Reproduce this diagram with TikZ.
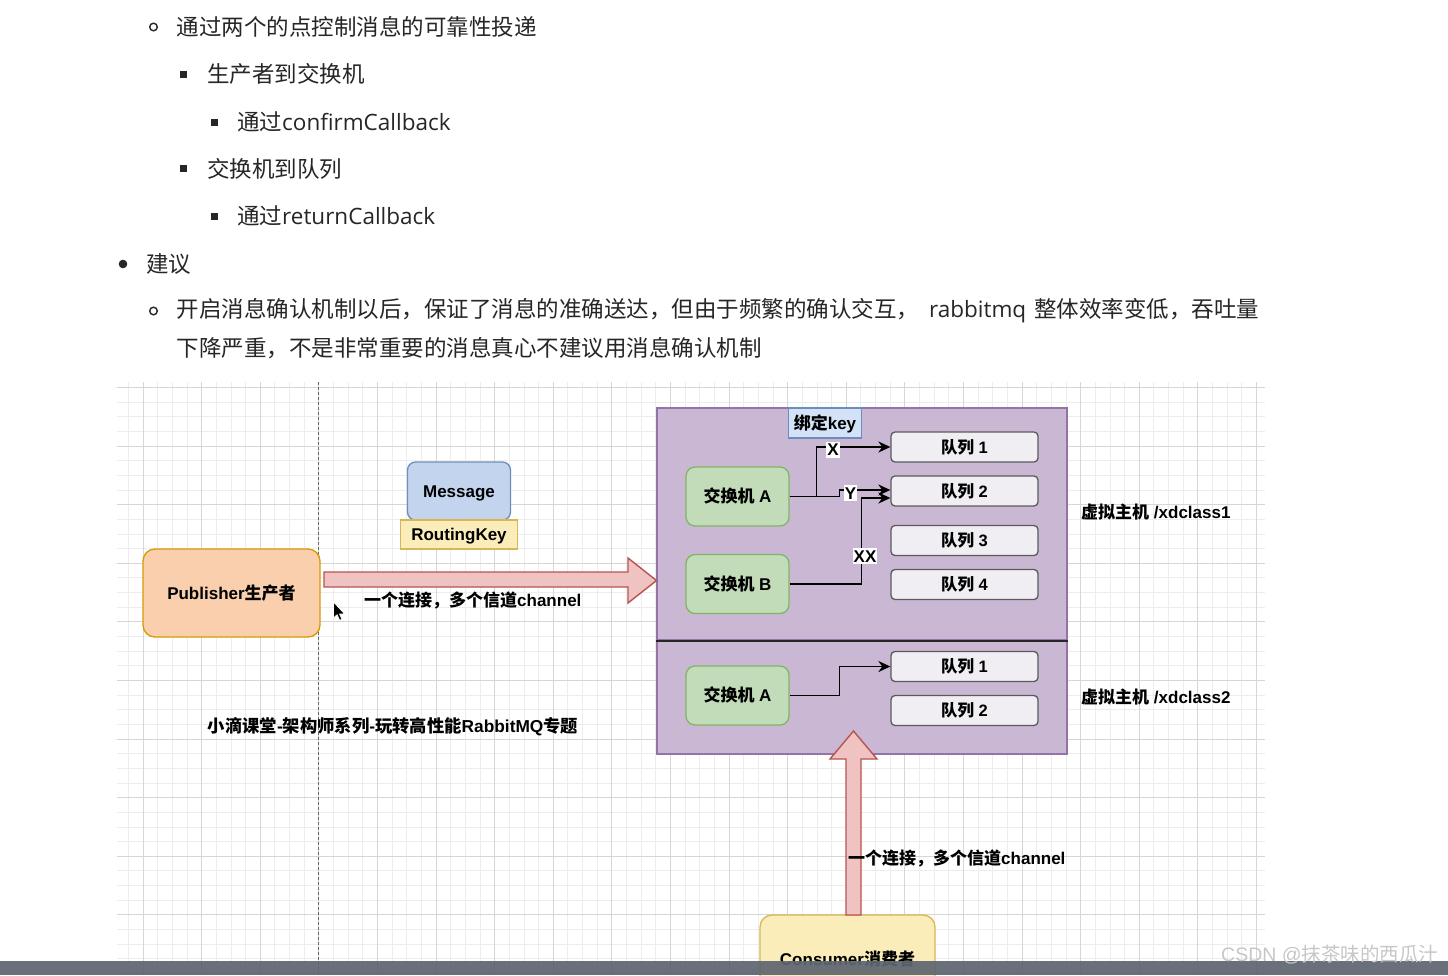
\documentclass[tikz,border=0pt]{standalone}
\usepackage{fontspec}
\setmainfont{Liberation Sans}
\newfontfamily\cjk{Noto Sans CJK SC}
\newfontfamily\os{Open Sans}
\usetikzlibrary{arrows.meta,calc}
\newcommand\zh[1]{{\cjk #1}}
\definecolor{txtgray}{HTML}{262626}
\definecolor{gridminor}{HTML}{EDEDED}
\definecolor{gridmajor}{HTML}{D6D6D6}
\definecolor{peach}{HTML}{F9CFAE}
\definecolor{peachd}{HTML}{D79B00}
\definecolor{msgblue}{HTML}{C3D4EF}
\definecolor{msgblued}{HTML}{6C8EBF}
\definecolor{bindblue}{HTML}{D3E2F7}
\definecolor{yel}{HTML}{FBEDB9}
\definecolor{yeld}{HTML}{D6B656}
\definecolor{purp}{HTML}{C9B7D4}
\definecolor{purpd}{HTML}{9673A6}
\definecolor{grn}{HTML}{C2DCB9}
\definecolor{grnd}{HTML}{82B366}
\definecolor{qfill}{HTML}{F0EEF2}
\definecolor{qdraw}{HTML}{5A5A5A}
\definecolor{arrfill}{HTML}{EEC3C1}
\definecolor{arrdraw}{HTML}{B85450}
\definecolor{barcol}{HTML}{5F6670}
\begin{document}
\begin{tikzpicture}[x=1pt,y=-1pt,
  toptext/.style={anchor=west, inner sep=0pt, text=txtgray, font=\os\fontsize{22.5}{26}\selectfont},
  lbl/.style={inner sep=0pt, text=black, text height=15.4pt, text depth=3pt, font=\bfseries\fontsize{17}{20}\selectfont},
  box/.style={draw, line width=1.3pt, inner sep=0pt, align=center, text=black, text height=15.4pt, text depth=3pt, font=\bfseries\fontsize{17}{20}\selectfont},
  pubbox/.style={box, fill=peach, draw=peachd, rounded corners=12pt, minimum width=177pt, minimum height=88pt},
  conbox/.style={box, fill=yel, draw=yeld, rounded corners=12pt, minimum width=175pt, minimum height=88pt},
  msgbox/.style={box, fill=msgblue, draw=msgblued, rounded corners=8pt, minimum width=103pt, minimum height=58pt},
  rkbox/.style={box, fill=yel, draw=yeld, minimum width=117pt, minimum height=29pt},
  bindbox/.style={box, fill=bindblue, draw=msgblued, minimum width=73pt, minimum height=30pt},
  vhbox/.style={draw=purpd, fill=purp, line width=1.3pt, inner sep=0pt, minimum width=410pt},
  exbox/.style={box, fill=grn, draw=grnd, rounded corners=9pt, minimum width=103pt, minimum height=59pt},
  qbox/.style={box, fill=qfill, draw=qdraw, rounded corners=4pt, minimum width=147pt, minimum height=30pt, font=\bfseries\fontsize{16.5}{20}\selectfont},
  conn/.style={draw=black, line width=1.7pt, -{Stealth[length=12pt,width=11pt]}},
  elbl/.style={fill=white, inner sep=1pt, text=black, text height=13pt, text depth=1pt, font=\bfseries\fontsize{17}{20}\selectfont},
  bigarrow/.style={fill=arrfill, draw=arrdraw, line width=1.4pt, line join=miter}
]
\useasboundingbox (0,0) rectangle (1448,975);
\fill[white] (0,0) rectangle (1448,975);

% grid
\begin{scope}
\clip (117,382) rectangle (1265,975);
\foreach \i in {-1,...,76} {\draw[gridminor, line width=0.8pt] ({143+\i*14.65},382) -- ({143+\i*14.65},975);}
\foreach \j in {0,...,40} {\draw[gridminor, line width=0.8pt] (117,{387.4+\j*14.65}) -- (1265,{387.4+\j*14.65});}
\foreach \i in {0,...,19} {\draw[gridmajor, line width=0.9pt] ({143+\i*58.6},382) -- ({143+\i*58.6},975);}
\foreach \j in {0,...,10} {\draw[gridmajor, line width=0.9pt] (117,{387.4+\j*58.6}) -- (1265,{387.4+\j*58.6});}
\end{scope}
\draw[black!60, line width=1pt, dash pattern=on 3pt off 2pt] (318.8,382) -- (318.8,975);

% top text
\draw[txtgray, line width=1.4pt] (153.5,27) circle (3.8);
\node[toptext] (t1) at (176.5,27) {\cjk 通过两个的点控制消息的可靠性投递};
\fill[txtgray] (180,71) rectangle (187,78);
\node[toptext] (t2) at (207,74) {\cjk 生产者到交换机};
\fill[txtgray] (210.5,118.5) rectangle (217.5,125.5);
\node[toptext] (t3) at (237,122) {\zh{通过}confirmCallback};
\fill[txtgray] (180,165) rectangle (187,172);
\node[toptext] (t4) at (207,168.5) {\cjk 交换机到队列};
\fill[txtgray] (210.5,212.5) rectangle (217.5,219.5);
\node[toptext] (t5) at (237,216) {\zh{通过}returnCallback};
\fill[txtgray] (123,264) circle (4.3);
\node[toptext] (t6) at (146,264) {\cjk 建议};
\draw[txtgray, line width=1.4pt] (153.5,311) circle (3.8);
\node[toptext] (t7) at (176.5,311) {\zh{开启消息确认机制以后，保证了消息的准确送达，但由于频繁的确认交互，}\hspace{4pt} rabbitmq\hspace{2pt} \zh{整体效率变低，吞吐量}};
\node[toptext] (t8) at (176.5,348) {\cjk 下降严重，不是非常重要的消息真心不建议用消息确认机制};

% virtual hosts
\node[vhbox, minimum height=232pt] (vh1) at (862,524) {};
\node[vhbox, minimum height=114pt] (vh2) at (862,697) {};
\draw[black!85, line width=1.7pt] (vh1.south west) -- (vh1.south east);

% nodes
\node[pubbox] (pub) at (231.5,593) {Publisher\zh{生产者}};
\node[msgbox] (msg) at (459,491) {Message};
\node[rkbox] (rk) at (459,534.5) {RoutingKey};
\node[bindbox] (bind) at (825,423) {\zh{绑定}key};
\node[exbox] (exA) at (737.5,496.5) {\zh{交换机} A};
\node[exbox] (exB) at (737.5,584) {\zh{交换机} B};
\node[qbox] (q1) at (964.5,447) {\zh{队列} 1};
\node[qbox] (q2) at (964.5,491) {\zh{队列} 2};
\node[qbox] (q3) at (964.5,540.5) {\zh{队列} 3};
\node[qbox] (q4) at (964.5,584.5) {\zh{队列} 4};
\node[exbox] (exA2) at (737.5,695.5) {\zh{交换机} A};
\node[qbox] (r1) at (964.5,666.5) {\zh{队列} 1};
\node[qbox] (r2) at (964.5,710.5) {\zh{队列} 2};
\node[conbox] (con) at (847.5,959) {Consumer\zh{消费者}};

% connectors
\draw[conn] (exA.east) -| ($(q1.west)+(-74,0)$) -- (q1.west);
\node[elbl] (lx) at (833,449.5) {X};
\draw[conn] (exA.east) -| ($(q2.west)+(-51,-1)$) -- ($(q2.west)+(0,-1)$);
\node[elbl] (ly) at (850.5,493) {Y};
\draw[conn] (exB.east) -| ($(q2.west)+(-29,7)$) -- ($(q2.west)+(0,7)$);
\node[elbl] (lxx) at (865,556) {XX};
\draw[conn] (exA2.east) -| ($(r1.west)+(-51,0)$) -- (r1.west);

% big arrows
\draw[bigarrow] (324,572) -- (628,572) -- (628,558) -- (656.5,580.5) -- (628,603) -- (628,587) -- (324,587) -- cycle;
\draw[bigarrow] (846,915) -- (846,759) -- (830,759) -- (853.5,731) -- (877,759) -- (861,759) -- (861,915) -- cycle;

% labels
\node[lbl, anchor=west] (ch1) at (364,600) {\zh{一个连接，多个信道}channel};
\node[lbl, anchor=west] (ch2) at (848,858) {\zh{一个连接，多个信道}channel};
\node[lbl, anchor=west] (vl1) at (1081,512) {\zh{虚拟主机} /xdclass1};
\node[lbl, anchor=west] (vl2) at (1081,697) {\zh{虚拟主机} /xdclass2};
\node[lbl, font=\bfseries\fontsize{17.3}{20}\selectfont] (title) at (393,726) {\zh{小滴课堂}-\zh{架构师系列}-\zh{玩转高性能}RabbitMQ\zh{专题}};

% mouse cursor
\filldraw[fill=black, draw=white, line width=0.6pt] (333.5,602) -- ++(0,16) -- ++(3.6,-3.4) -- ++(2.6,5.6) -- ++(2.2,-1) -- ++(-2.5,-5.4) -- ++(5,0) -- cycle;

% bottom bar and watermark
\fill[barcol, opacity=0.93] (0,961) rectangle (1448,975);
\node[anchor=west, inner sep=0pt, text=black!22, font=\fontsize{19.5}{22}\selectfont] (wm) at (1221,955) {CSDN @\zh{抹茶味的西瓜汁}};
\end{tikzpicture}
\end{document}
